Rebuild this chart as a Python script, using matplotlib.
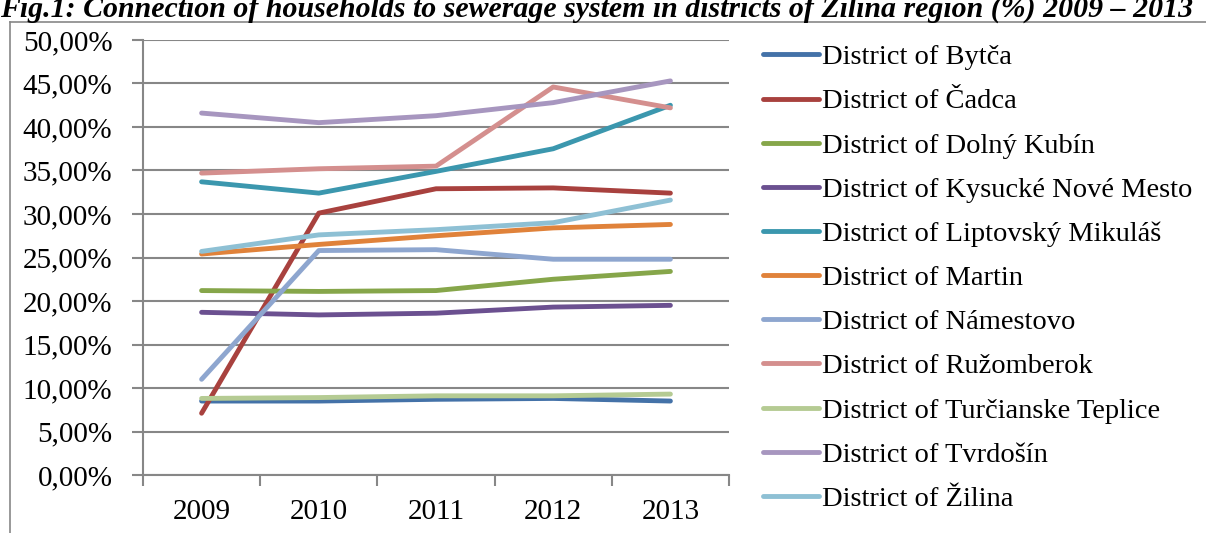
import matplotlib.pyplot as plt
from matplotlib.lines import Line2D

plt.rcParams['font.family'] = ['Liberation Serif', 'DejaVu Serif']

years = ['2009', '2010', '2011', '2012', '2013']
districts = ['District of Bytča', 'District of Čadca', 'District of Dolný Kubín',
             'District of Kysucké Nové Mesto', 'District of Liptovský Mikuláš',
             'District of Martin', 'District of Námestovo', 'District of Ružomberok',
             'District of Turčianske Teplice', 'District of Tvrdošín', 'District of Žilina']

bytca = [8.5, 8.5, 8.7, 8.8, 8.5]
cadca = [7.1, 30.1, 32.9, 33.0, 32.4]
dolny_kubin = [21.2, 21.1, 21.2, 22.5, 23.4]
kysucke = [18.7, 18.4, 18.6, 19.3, 19.5]
liptovsky = [33.7, 32.4, 34.9, 37.5, 42.5]
martin = [25.4, 26.5, 27.5, 28.4, 28.8]
namestovo = [11.0, 25.8, 25.9, 24.8, 24.8]
ruzomberok = [34.7, 35.2, 35.5, 44.6, 42.2]
turcianske = [8.8, 8.9, 9.1, 9.1, 9.3]
tvrdosin = [41.6, 40.5, 41.3, 42.8, 45.3]
zilina = [25.7, 27.6, 28.2, 29.0, 31.6]

series = [bytca, cadca, dolny_kubin, kysucke, liptovsky, martin,
          namestovo, ruzomberok, turcianske, tvrdosin, zilina]
colors = ['#4472a8', '#a8413e', '#86a64a', '#6b5090', '#3b97ae', '#e0823a',
          '#8ea6cf', '#d48f8e', '#b5cb93', '#a796bf', '#8ec0d4']

fig = plt.figure(figsize=(12.06, 5.33), dpi=100)
ax = fig.add_axes([143/1206, 58/533, 586/1206, 435/533])

x = range(len(years))
for vals, name, c in zip(series, districts, colors):
    ax.plot(x, vals, color=c, lw=3.5, label=name, solid_capstyle='round',
            solid_joinstyle='round')

ax.set_ylim(0, 50)
ax.set_xlim(-0.5, 4.5)
ax.set_yticks(range(0, 51, 5))
ax.set_yticklabels(['%d,00%%' % v for v in range(0, 51, 5)])
ax.set_xticks([i - 0.5 for i in range(6)])
ax.set_xticklabels([])
ax.set_xticks(list(x), minor=True)
ax.set_xticklabels(years, minor=True)
ax.tick_params(axis='x', which='minor', length=0, pad=17, labelsize=21)
ax.tick_params(axis='x', which='major', length=8, width=1.5, color='#878787')
ax.tick_params(axis='y', length=8, width=1.5, color='#878787', labelsize=21, pad=14)
ax.yaxis.grid(True, color='#878787', lw=1.5)
ax.set_axisbelow(True)
for s in ['top', 'right']:
    ax.spines[s].set_visible(False)
for s in ['left', 'bottom']:
    ax.spines[s].set_color('#878787')
    ax.spines[s].set_linewidth(1.5)

ax.legend(loc='upper left', bbox_to_anchor=(752/1206, 1 - 33/533),
          bbox_transform=fig.transFigure, frameon=False, fontsize=20.5,
          handlelength=1.95, handletextpad=0.12, labelspacing=0.64, borderaxespad=0)

# outer chart frame
fig.add_artist(Line2D([10/1206, 10/1206], [0, 1 - 22/533], transform=fig.transFigure,
                      color='#878787', lw=1.2))
fig.add_artist(Line2D([10/1206, 1], [1 - 22/533, 1 - 22/533], transform=fig.transFigure,
                      color='#878787', lw=1.2))

fig.text(0.0, 1 - 17/533, 'Fig.1: Connection of households to sewerage system in districts of Žilina region (%) 2009 – 2013',
         fontsize=21.5, fontweight='bold', fontstyle='italic', va='baseline', ha='left')

fig.savefig('out.png', dpi=100)
